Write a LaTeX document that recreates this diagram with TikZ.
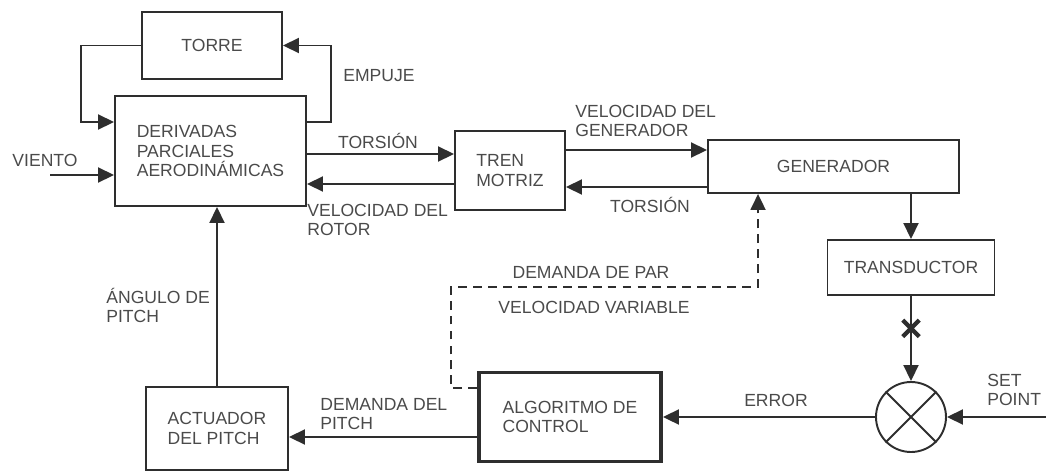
\documentclass[tikz,border=0pt]{standalone}
\usepackage{fontspec}
\setmainfont{Liberation Sans}
\usepackage{tikz}
\usetikzlibrary{positioning, arrows.meta, shapes.misc, calc}

\definecolor{linegray}{HTML}{2E2E2E}
\definecolor{textgray}{HTML}{4A4A4A}

\tikzset{
  blk/.style={draw=linegray, line width=1.1pt, text=textgray, align=left, inner sep=0pt},
  lbl/.style={text=textgray, align=left, inner sep=0pt},
  arr/.style={draw=linegray, line width=1.1pt, -{Triangle[length=3.2mm,width=3mm]}},
  dasharr/.style={arr, dash pattern=on 5pt off 3.5pt}
}

\begin{document}
\begin{tikzpicture}[x=0.02cm, y=-0.02cm, font=\fontsize{10}{11}\selectfont]
  \useasboundingbox (0,0) rectangle (1046,474);

  % bloques
  \node[blk, minimum width=140*0.02cm, minimum height=67*0.02cm] (torre) at (212,45.5) {TORRE};
  \node[blk, minimum width=191*0.02cm, minimum height=110*0.02cm] (deriv) at (210.5,151) {DERIVADAS\\PARCIALES\\AERODINÁMICAS};
  \node[blk, minimum width=110*0.02cm, minimum height=79*0.02cm] (tren) at (510,170.5) {TREN\\MOTRIZ};
  \node[blk, minimum width=251*0.02cm, minimum height=53*0.02cm] (gen) at (833.5,166.5) {GENERADOR};
  \node[blk, minimum width=167*0.02cm, minimum height=55*0.02cm] (trans) at (911,267.5) {TRANSDUCTOR};
  \node[circle, draw=linegray, line width=1.1pt, minimum size=70*0.02cm, inner sep=0pt] (sum) at (911,417) {};
  \draw[linegray, line width=1.1pt] (sum.45) -- (sum.225) (sum.135) -- (sum.315);
  \node[blk, line width=2.2pt, minimum width=182*0.02cm, minimum height=89*0.02cm] (alg) at (570,417) {ALGORITMO DE\\CONTROL};
  \node[blk, minimum width=142*0.02cm, minimum height=83*0.02cm] (act) at (217,428.5) {ACTUADOR\\DEL PITCH};

  % torre
  \draw[arr] (torre.west) -- ++(-60,0) |- ($(deriv.west)+(0,-29)$);
  \draw[arr] ($(deriv.east)+(0,-29)$) -- ++(24,0) |- (torre.east);
  \node[lbl] (empuje) at (379,76) {EMPUJE};

  % viento
  \coordinate (vin) at (50,175);
  \node[lbl] (viento) at (45,160) {VIENTO};
  \draw[arr] (vin) -- (vin -| deriv.west);

  % rotor - tren motriz
  \draw[arr] ($(deriv.east)+(0,3)$) coordinate (t1) -- (t1 -| tren.west);
  \node[lbl] (tors1) at (378,141) {TORSIÓN};
  \draw[arr] ($(tren.west)+(0,13.5)$) coordinate (t2) -- (t2 -| deriv.east);
  \node[lbl, anchor=north west] (vrot) at (307,204) {VELOCIDAD DEL\\ROTOR};

  % tren motriz - generador
  \draw[arr] ($(tren.east)+(0,-20.5)$) coordinate (g1) -- (g1 -| gen.west);
  \node[lbl, anchor=north west] (vgen) at (575,105) {VELOCIDAD DEL\\GENERADOR};
  \draw[arr] ($(gen.west)+(0,20.5)$) coordinate (g2) -- (g2 -| tren.east);
  \node[lbl] (tors2) at (650,205) {TORSIÓN};

  % medida
  \draw[arr] (gen.south -| trans.north) -- (trans.north);
  \draw[arr] (trans.south) -- node[pos=0.38, cross out, draw=linegray, line width=2.4pt, minimum size=7pt, inner sep=0pt] (xmk) {} (sum.north);
  \coordinate (spin) at (1046,417);
  \draw[arr] (spin) -- (sum.east);
  \node[lbl, anchor=north west] (setp) at (987,374) {SET\\POINT};
  \draw[arr] (sum.west) -- (alg.east);
  \node[lbl] (err) at (776,400) {ERROR};

  % demanda de par
  \coordinate (d1) at (451,287);
  \draw[dasharr] ($(alg.west)+(0,-29)$) -| (d1) -| ($(gen.south west)+(51,0)$);
  \node[lbl] (dpar) at (591,272) {DEMANDA DE PAR};
  \node[lbl] (vvar) at (594,307) {VELOCIDAD VARIABLE};

  % pitch
  \draw[arr] ($(alg.west)+(0,20)$) coordinate (p1) -- (p1 -| act.east);
  \node[lbl, anchor=north west] (dpitch) at (320,398) {DEMANDA DEL\\PITCH};
  \draw[arr] (act.north) -- (act.north |- deriv.south);
  \node[lbl, anchor=north west] (ang) at (106,288) {ÁNGULO DE\\PITCH};
\end{tikzpicture}
\end{document}
